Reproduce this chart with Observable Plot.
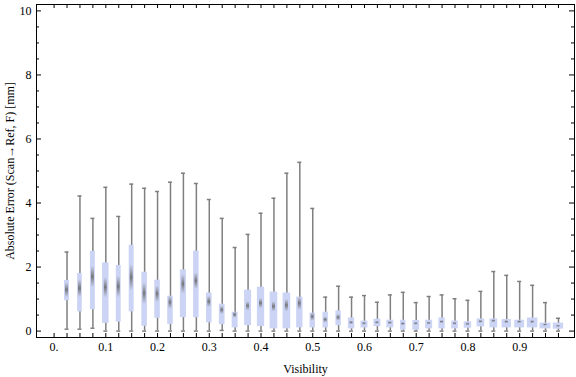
<!DOCTYPE html>
<html><head><meta charset="utf-8">
<script src="https://cdn.jsdelivr.net/npm/d3@7"></script>
<script src="https://cdn.jsdelivr.net/npm/@observablehq/plot@0.6"></script>
<style>body{margin:0;background:#fff}</style>
</head><body><div id="chart"></div>
<script>
// Box positions (Visibility)
const visibility = [0.025,0.05,0.075,0.1,0.125,0.15,0.175,0.2,0.225,0.25,0.275,0.3,0.325,0.35,0.375,0.4,0.425,0.45,0.475,0.5,0.525,0.55,0.575,0.6,0.625,0.65,0.675,0.7,0.725,0.75,0.775,0.8,0.825,0.85,0.875,0.9,0.925,0.95,0.975];
// Absolute error statistics [mm]
const maxes   = [2.47,4.22,3.52,4.49,3.58,4.59,4.46,4.36,4.65,4.93,4.61,4.11,3.52,2.61,3.02,3.68,4.15,4.93,5.27,3.83,1.06,1.40,1.06,1.11,0.90,1.13,1.21,0.89,1.08,1.13,1.01,0.96,1.24,1.86,1.74,1.55,1.43,0.89,0.40];
const q3s     = [1.58,1.80,2.49,2.13,2.05,2.68,1.84,1.59,1.09,1.91,2.50,1.19,0.84,0.59,1.28,1.37,1.22,1.19,1.06,0.56,0.59,0.63,0.41,0.31,0.37,0.34,0.34,0.33,0.34,0.41,0.31,0.29,0.38,0.38,0.36,0.34,0.41,0.25,0.25];
const medians = [1.28,1.35,1.72,1.35,1.39,1.67,1.20,1.15,0.89,1.46,1.56,0.91,0.65,0.50,0.78,0.85,0.76,0.80,0.85,0.44,0.34,0.42,0.26,0.23,0.26,0.25,0.22,0.23,0.24,0.28,0.23,0.21,0.29,0.31,0.28,0.28,0.28,0.19,0.15];
const q1s     = [0.95,0.60,0.67,0.24,0.28,0.60,0.15,0.40,0.21,0.42,0.42,0.26,0.20,0.10,0.17,0.14,0.07,0.07,0.10,0.10,0.10,0.17,0.07,0.10,0.14,0.10,0.03,0.03,0.07,0.07,0.07,0.09,0.13,0.10,0.10,0.10,0.10,0.07,0.06];
const mins    = [0.06,0.06,0.09,0.00,0.00,0.00,0.00,0.00,0.00,0.00,0.00,0.00,0.02,0.00,0.00,0.00,0.00,0.00,0.00,0.00,0.00,0.00,0.00,0.00,0.00,0.00,0.00,0.00,0.00,0.00,0.00,0.00,0.00,0.00,0.00,0.00,0.00,0.00,0.00];
// Median confidence band (notch) extents
const notchLo = [1.04,1.04,1.35,1.04,1.04,1.25,0.83,0.89,0.68,1.15,1.30,0.73,0.52,0.40,0.63,0.70,0.60,0.60,0.65,0.31,0.25,0.31,0.20,0.18,0.21,0.20,0.17,0.18,0.19,0.23,0.18,0.16,0.24,0.26,0.23,0.23,0.23,0.15,0.11];
const notchHi = [1.51,1.61,2.03,1.67,1.72,2.08,1.51,1.41,1.09,1.77,1.82,1.09,0.78,0.60,0.92,1.02,0.92,0.99,1.06,0.57,0.44,0.52,0.32,0.28,0.31,0.30,0.27,0.28,0.29,0.33,0.28,0.26,0.34,0.36,0.33,0.33,0.33,0.23,0.19];
// Relative box weight (fraction of the slot occupied by each box)
const boxWeight = [0.38,0.36,0.38,0.50,0.38,0.38,0.43,0.43,0.43,0.47,0.43,0.43,0.44,0.46,0.54,0.56,0.59,0.59,0.49,0.42,0.42,0.42,0.49,0.54,0.54,0.54,0.42,0.53,0.54,0.49,0.51,0.57,0.59,0.59,0.72,0.76,0.80,0.84,0.80];

// Axis ticks
const xLabelTicks = [0,0.1,0.2,0.3,0.4,0.5,0.6,0.7,0.8,0.9];
const xTickLabels = ["0.","0.1","0.2","0.3","0.4","0.5","0.6","0.7","0.8","0.9"];
const xMinorTicks = [0].concat(visibility);
const yMajorTicks = [0,2,4,6,8,10];
const yMinorTicks = d3.range(0, 10.01, 0.5).filter(v => v % 2 !== 0);
const xTitle = "Visibility";
const yTitle = "Absolute Error (Scan\u2192Ref, F) [mm]";

const slot = 0.025;
const data = visibility.map((v, i) => ({x: v, min: mins[i], q1: q1s[i], med: medians[i], q3: q3s[i], max: maxes[i], lo: notchLo[i], hi: notchHi[i], w: boxWeight[i]}));

const W = 576, H = 377, mL = 36, mR = 2, mT = 4, mB = 40;
const pW = W - mL - mR, pH = H - mT - mB;

const chart = Plot.plot({
  width: W, height: H,
  marginLeft: mL, marginRight: mR, marginTop: mT, marginBottom: mB,
  style: {fontFamily: "'Liberation Serif', 'Times New Roman', serif", fontSize: "12px", background: "#fff", color: "#000"},
  x: {domain: [-0.034, 1.006]},
  y: {domain: [-0.2, 10.2]},
  marks: [
    Plot.ruleX(data, {x: "x", y1: "min", y2: "max", stroke: "#7f7f7f", strokeWidth: 1.5}),
    Plot.ruleY(data, {y: "max", x1: "x", x2: "x", insetLeft: -2, insetRight: -2, stroke: "#7f7f7f", strokeWidth: 1.5}),
    Plot.ruleY(data, {y: "min", x1: "x", x2: "x", insetLeft: -2, insetRight: -2, stroke: "#7f7f7f", strokeWidth: 1.5}),
    Plot.rect(data, {x1: d => d.x - d.w * slot / 2, x2: d => d.x + d.w * slot / 2, y1: "q1", y2: "q3", fill: "#ccd4f5"}),
    Plot.rect(data, {x1: "x", x2: "x", y1: "lo", y2: "hi", insetLeft: -1.5, insetRight: -1.5, fill: "url(#medGrad)", ariaLabel: "median"}),
    Plot.frame({stroke: "#000", strokeWidth: 1}),
    Plot.tickX(xMinorTicks, {x: d => d, insetTop: pH - 4, stroke: "#000"}),
    Plot.tickX(xMinorTicks, {x: d => d, insetBottom: pH - 4, stroke: "#000"}),
    Plot.tickY(yMajorTicks, {y: d => d, insetRight: pW - 5, stroke: "#000"}),
    Plot.tickY(yMinorTicks, {y: d => d, insetRight: pW - 3, stroke: "#000"}),
    Plot.tickY(yMajorTicks, {y: d => d, insetLeft: pW - 5, stroke: "#000"}),
    Plot.tickY(yMinorTicks, {y: d => d, insetLeft: pW - 3, stroke: "#000"}),
    Plot.axisX({ticks: xLabelTicks, tickFormat: d => xTickLabels[xLabelTicks.indexOf(d)], tickSize: 0, tickPadding: 5, label: null}),
    Plot.axisY({ticks: yMajorTicks, tickSize: 0, tickPadding: 5, label: null}),
    Plot.text([xTitle], {frameAnchor: "bottom", dy: 35, fontSize: 12, textAnchor: "middle"}),
    Plot.text([yTitle], {frameAnchor: "left", dx: -26, rotate: -90, fontSize: 12, textAnchor: "middle"})
  ]
});

const svg = d3.select(chart);
const defs = svg.insert("defs", ":first-child");
const g = defs.append("linearGradient").attr("id", "medGrad").attr("x1", 0).attr("y1", 0).attr("x2", 0).attr("y2", 1);
g.append("stop").attr("offset", "0%").attr("stop-color", "#707070").attr("stop-opacity", 0);
g.append("stop").attr("offset", "50%").attr("stop-color", "#666").attr("stop-opacity", 0.85);
g.append("stop").attr("offset", "100%").attr("stop-color", "#707070").attr("stop-opacity", 0);
defs.append("filter").attr("id", "medBlur").attr("x", "-150%").attr("y", "-30%").attr("width", "400%").attr("height", "160%")
  .append("feGaussianBlur").attr("stdDeviation", "0.8 1");
svg.selectAll('g[aria-label="median"]').attr("filter", "url(#medBlur)");

document.getElementById("chart").appendChild(chart);
</script>
</body></html>
